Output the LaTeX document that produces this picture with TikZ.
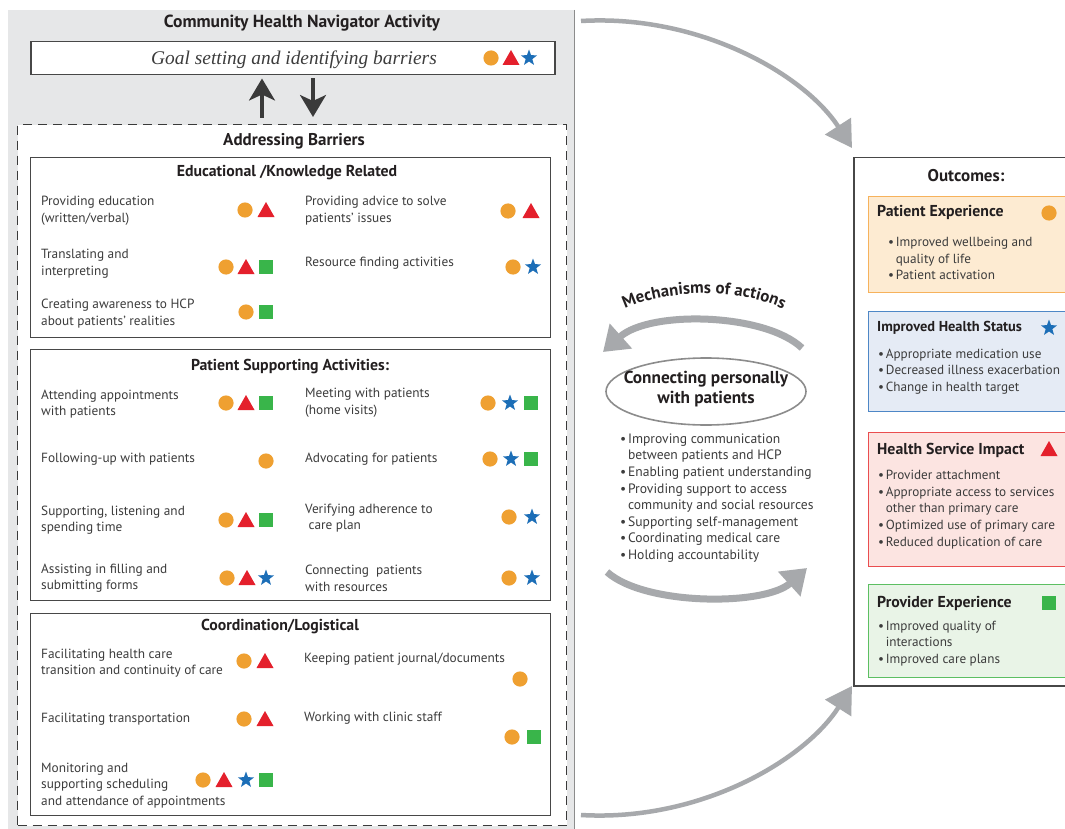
\documentclass[tikz,border=0pt]{standalone}
\usepackage{fontspec}
\setmainfont{PT Sans}
\newfontfamily\serifit{Liberation Serif}
\usetikzlibrary{arrows.meta}
\usetikzlibrary{positioning}
\usetikzlibrary{shapes.geometric}
\usetikzlibrary{decorations.text}

\definecolor{navgray}{HTML}{E6E7E8}
\definecolor{navline}{HTML}{8C8C8C}
\definecolor{arrgray}{HTML}{A7A9AC}
\definecolor{arrowdark}{HTML}{3A3A3A}
\definecolor{boxline}{HTML}{474747}
\definecolor{itemtext}{HTML}{3C3C3C}
\definecolor{headtext}{HTML}{231F20}
\definecolor{symorange}{HTML}{EFA031}
\definecolor{symred}{HTML}{E4202C}
\definecolor{symblue}{HTML}{1C6EB7}
\definecolor{symgreen}{HTML}{39B54A}
\definecolor{pefill}{HTML}{FDEBD2}
\definecolor{peline}{HTML}{F6B25C}
\definecolor{hsfill}{HTML}{E5EBF5}
\definecolor{hsline}{HTML}{4E87C6}
\definecolor{hifill}{HTML}{FCE4E1}
\definecolor{hiline}{HTML}{EA4D4F}
\definecolor{prfill}{HTML}{E9F4E7}
\definecolor{prline}{HTML}{5CBF62}

\newcommand{\navfont}{\bfseries\fontsize{17.5}{20}\selectfont}
\newcommand{\headfont}{\bfseries\fontsize{17}{20}\selectfont}
\newcommand{\subfont}{\bfseries\fontsize{15.8}{18}\selectfont}
\newcommand{\itemfont}{\fontsize{13.3}{16.6}\selectfont}
\newcommand{\listfont}{\fontsize{13.6}{16.6}\selectfont}
\newcommand{\olistfont}{\fontsize{13.2}{16.6}\selectfont}
\newcommand{\otitlefont}{\bfseries\fontsize{15.8}{18}\selectfont}
\newcommand{\osmallfont}{\bfseries\fontsize{14.4}{17}\selectfont}
\newcommand{\ellfont}{\bfseries\fontsize{17.3}{19.5}\selectfont}
\newcommand{\mechfont}{\bfseries\fontsize{16.8}{19}\selectfont}
\newcommand{\goalfont}{\serifit\itshape\fontsize{19.4}{21}\selectfont}
\newcommand{\bul}{\makebox[0.58em][l]{•}}

\begin{document}
\begin{tikzpicture}[x=1pt,y=-1pt,
    box/.style={draw=boxline,line width=1.2pt,fill=white,inner sep=0pt,anchor=north west},
    item/.style={anchor=west,align=left,inner sep=0pt,text=itemtext,font=\itemfont,yshift=-1.5pt},
    heading/.style={inner sep=0pt,text=headtext,font=\headfont},
    bullets/.style={anchor=west,align=left,inner sep=0pt,text=itemtext,font=\listfont},
    obox/.style={line width=1.4pt,inner sep=0pt,anchor=north west,minimum width=205pt},
    otitle/.style={anchor=west,inner sep=0pt,text=headtext,font=\otitlefont},
    navarrow/.style={line width=3.2pt,draw=arrowdark,-{Stealth[length=22pt,width=26pt,inset=6pt]}},
    bigarrow/.style={line width=4.5pt,draw=arrgray,-{Triangle[length=26pt,width=30pt]}},
    mecharrow/.style={line width=7pt,draw=arrgray,-{Triangle[length=24pt,width=32pt]}},
    symdot/.pic={\fill[symorange] (0,0) circle (7.6);},
    symtri/.pic={\fill[symred] (0,-8) -- (8.5,7) -- (-8.5,7) -- cycle;},
    symsq/.pic={\fill[symgreen] (-7.3,-7.3) rectangle (7.3,7.3);},
    symstar/.pic={\fill[symblue] (-90:8.5) \foreach \k in {1,...,9}{ -- ({-90+36*\k}:{ifthenelse(mod(\k,2)==1,3.5,8.5)}) } -- cycle;}]
  \useasboundingbox (0,0) rectangle (1065,829);
  \fill[white] (0,0) rectangle (1065,829);

  % navigator side
  \node[fill=navgray,inner sep=0pt,anchor=north west,minimum width=566pt,minimum height=830pt] (nav) at (8,10) {};
  \draw[navline,line width=1.6pt] (nav.north east) -- (nav.south east);
  \node[heading,font=\navfont] (navt) at (302,23) {Community Health Navigator Activity};
  \node[box,line width=1.5pt,minimum width=524pt,minimum height=33pt] (goal) at (30,41) {};
  \node[inner sep=0pt,text=itemtext,font=\goalfont] (goalt) at (294,60) {Goal setting and identifying barriers};
  \pic at (491,58) {symdot}; \pic at (511,58) {symtri}; \pic at (529,58) {symstar};

  \node[box,dash pattern=on 9pt off 6pt,draw=arrowdark,minimum width=549pt,minimum height=701pt] (barr) at (17,124) {};
  \node[heading] (barrt) at (294,141) {Addressing Barriers};
  \coordinate (upfoot) at (262,118);
  \coordinate (downfoot) at (313,117);
  \draw[navarrow,shorten >=3pt] (upfoot) -- (upfoot |- goal.south);
  \draw[navarrow,shorten <=3pt] (downfoot |- goal.south) -- (downfoot);

  % educational
  \node[box,minimum width=520pt,minimum height=180pt] (edu) at (30,157) {};
  \node[heading,font=\subfont] (edut) at (287,173) {Educational /Knowledge Related};
  \node[item] (e1) at (41,209) {Providing education\\(written/verbal)};
  \pic at (245,210) {symdot}; \pic at (266,210) {symtri};
  \node[item] (e2) at (305,209) {Providing advice to solve\\patients' issues};
  \pic at (508,211) {symdot}; \pic at (531,211) {symtri};
  \node[item] (e3) at (41,262) {Translating and\\interpreting};
  \pic at (226,267) {symdot}; \pic at (246,267) {symtri}; \pic at (266,267) {symsq};
  \node[item] (e4) at (305,262) {Resource finding activities};
  \pic at (513,267) {symdot}; \pic at (533,267) {symstar};
  \node[item] (e5) at (41,312) {Creating awareness to HCP\\about patients' realities};
  \pic at (246,312) {symdot}; \pic at (266,312) {symsq};

  % patient supporting
  \node[box,minimum width=520pt,minimum height=251pt] (pat) at (30,349) {};
  \node[heading,font=\subfont] (patt) at (290,367) {Patient Supporting Activities:};
  \node[item] (p1) at (41,402.5) {Attending appointments\\with patients};
  \pic at (226,403) {symdot}; \pic at (246,403) {symtri}; \pic at (266,403) {symsq};
  \node[item] (p2) at (305,401.5) {Meeting with patients\\(home visits)};
  \pic at (488,403) {symdot}; \pic at (510,403) {symstar}; \pic at (531,403) {symsq};
  \node[item] (p3) at (41,458) {Following-up with patients};
  \pic at (266,461) {symdot};
  \node[item] (p4) at (305,458) {Advocating for patients};
  \pic at (490,459) {symdot}; \pic at (511,459) {symstar}; \pic at (531,459) {symsq};
  \node[item] (p5) at (41,518.5) {Supporting, listening and\\spending time};
  \pic at (226,520) {symdot}; \pic at (246,520) {symtri}; \pic at (266,520) {symsq};
  \node[item] (p6) at (305,516.5) {Verifying adherence to\\\hspace*{0.25em}care plan};
  \pic at (509,517) {symdot}; \pic at (532,517) {symstar};
  \node[item] (p7) at (41,576.5) {Assisting in filling and\\submitting forms};
  \pic at (227,578) {symdot}; \pic at (247,578) {symtri}; \pic at (266,578) {symstar};
  \node[item] (p8) at (305,577) {Connecting\ \ patients\\with resources};
  \pic at (509,578) {symdot}; \pic at (532,578) {symstar};

  % coordination
  \node[box,minimum width=520pt,minimum height=202pt] (coo) at (30,613) {};
  \node[heading,font=\subfont] (coot) at (280,627) {Coordination/Logistical};
  \node[item] (c1) at (41,661.5) {Facilitating health care\\transition and continuity of care};
  \pic at (244,661) {symdot}; \pic at (265,661) {symtri};
  \node[item] (c2) at (304,658) {Keeping patient journal/documents};
  \pic at (520,679) {symdot};
  \node[item] (c3) at (41,718) {Facilitating transportation};
  \pic at (244,719) {symdot}; \pic at (265,719) {symtri};
  \node[item] (c4) at (304,717) {Working with clinic staff};
  \pic at (512,737) {symdot}; \pic at (534,737) {symsq};
  \node[item] (c5) at (41,784) {Monitoring and\\supporting scheduling\\and attendance of appointments};
  \pic at (203,780) {symdot}; \pic at (224,780) {symtri}; \pic at (246,780) {symstar}; \pic at (266,780) {symsq};

  % mechanisms
  \path[decorate,decoration={text along path,text align=center,text color=headtext,
      text={|\mechfont|Mechanisms of actions}}] (612,316) .. controls (660,286) and (750,286) .. (796,316);
  \coordinate (mechR) at (802,348);
  \coordinate (mechL) at (603,352);
  \draw[mecharrow] (mechR) .. controls (765,313) and (650,310) .. (mechL);
  \node[ellipse,draw=navline,line width=1.6pt,minimum width=200pt,minimum height=67pt,inner sep=0pt] (conn) at (706,391.5) {};
  \node[heading,align=center,font=\ellfont] (connt) at (706,389) {Connecting personally\\with patients};
  \node[bullets] (mlist) at (620,498) {\bul Improving communication\\\phantom{\bul}between patients and HCP\\
      \bul Enabling patient understanding\\\bul Providing support to access\\
      \phantom{\bul}community and social resources\\\bul Supporting self-management\\
      \bul Coordinating medical care\\\bul Holding accountability};
  \coordinate (lowL) at (607,572);
  \coordinate (lowR) at (807,568);
  \draw[mecharrow] (lowL) .. controls (645,606) and (765,606) .. (lowR);

  % outcomes
  \node[box,line width=1.5pt,minimum width=215pt,minimum height=528pt] (outc) at (853,157) {};
  \node[heading] (outt) at (966,176) {Outcomes:};
  \node[obox,draw=peline,fill=pefill,minimum height=96pt] (pe) at (868,196) {};
  \node[otitle] (pet) at (877,212) {Patient Experience};
  \pic at (1049,213) {symdot};
  \node[bullets,font=\olistfont] (pel) at (888,258.5) {\bul Improved wellbeing and\\\phantom{\bul}quality of life\\\bul Patient activation};
  \node[obox,draw=hsline,fill=hsfill,minimum height=100pt] (hs) at (868,311) {};
  \node[otitle,font=\osmallfont] (hst) at (877,328) {Improved Health Status};
  \pic at (1049,328) {symstar};
  \node[bullets,font=\olistfont] (hsl) at (878,371.5) {\bul Appropriate medication use\\\bul Decreased illness exacerbation\\\bul Change in health target};
  \node[obox,draw=hiline,fill=hifill,minimum height=134pt] (hi) at (868,432) {};
  \node[otitle] (hit) at (877,450) {Health Service Impact};
  \pic at (1049,449) {symtri};
  \node[bullets,font=\olistfont] (hil) at (878,509.5) {\bul Provider attachment\\\bul Appropriate access to services\\
      \phantom{\bul}other than primary care\\\bul Optimized use of primary care\\\bul Reduced duplication of care};
  \node[obox,draw=prline,fill=prfill,minimum height=93pt] (pr) at (868,584) {};
  \node[otitle] (prt) at (877,603) {Provider Experience};
  \pic at (1049,603) {symsq};
  \node[bullets,font=\olistfont] (prl) at (878,643.5) {\bul Improved quality of\\\phantom{\bul}interactions\\\bul Improved care plans};

  % flow into outcomes
  \coordinate (navtop) at (581,21);
  \coordinate (navbot) at (581,815);
  \coordinate (outtop) at (852,148);
  \coordinate (outbot) at (852,686);
  \draw[bigarrow] (navtop) .. controls +(119,-7) and +(-47,-73) .. (outtop);
  \draw[bigarrow] (navbot) .. controls +(119,7) and +(-47,74) .. (outbot);
\end{tikzpicture}
\end{document}
